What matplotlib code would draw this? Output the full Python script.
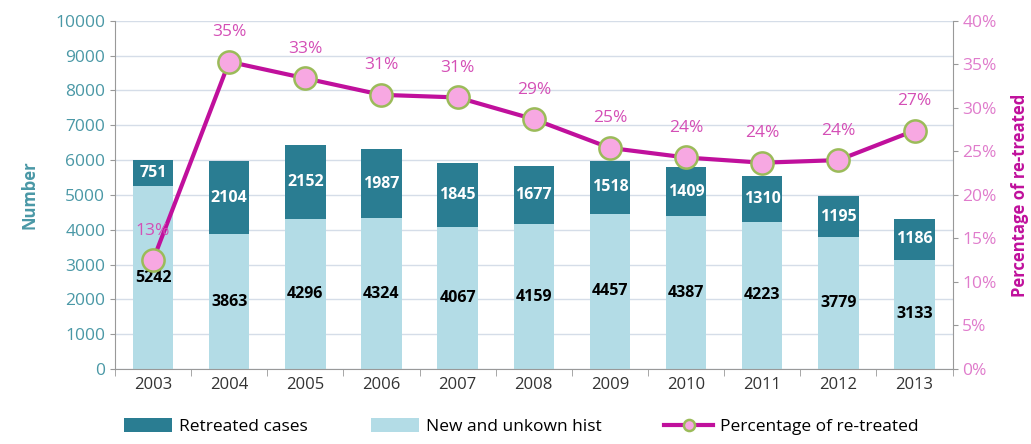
import matplotlib
matplotlib.use("Agg")
import matplotlib.pyplot as plt
from matplotlib.ticker import FuncFormatter
import numpy as np

years = ["2003", "2004", "2005", "2006", "2007", "2008", "2009", "2010", "2011", "2012", "2013"]
new_cases = [5242, 3863, 4296, 4324, 4067, 4159, 4457, 4387, 4223, 3779, 3133]
retreated = [751, 2104, 2152, 1987, 1845, 1677, 1518, 1409, 1310, 1195, 1186]
pct = [12.5, 35.3, 33.4, 31.5, 31.2, 28.7, 25.4, 24.3, 23.7, 24.0, 27.4]
pct_labels = ["13%", "35%", "33%", "31%", "31%", "29%", "25%", "24%", "24%", "24%", "27%"]

DARK = "#2a7d92"
LIGHT = "#b3dce6"
MAG = "#c0109c"
PINKTXT = "#d44fb6"
TEAL = "#4a98a6"

plt.rcParams['font.family'] = ['Open Sans', 'DejaVu Sans']

fig = plt.figure(figsize=(10.31, 4.44), dpi=100)
ax = fig.add_axes([0.1115, 0.169, 0.8125, 0.784])
x = np.arange(len(years))
w = 0.53
ax.bar(x, new_cases, w, color=LIGHT, label="New and unkown hist", zorder=2)
ax.bar(x, retreated, w, bottom=new_cases, color=DARK, label="Retreated cases", zorder=2)
for i in range(len(years)):
    ax.text(x[i], new_cases[i] / 2, str(new_cases[i]), ha='center', va='center',
            fontsize=11.5, fontweight='bold', color='black', zorder=3)
    ax.text(x[i], new_cases[i] + retreated[i] / 2, str(retreated[i]), ha='center', va='center',
            fontsize=11.5, fontweight='bold', color='white', zorder=3)

ax.set_xlim(-0.5, len(years) - 0.5)
ax.set_ylim(0, 10000)
ax.set_yticks(np.arange(0, 10001, 1000))
ax.set_xticks(x)
ax.set_xticklabels(years, fontsize=12, color='#333333')
ax.tick_params(axis='y', labelsize=12.5, labelcolor=TEAL, color='#999999')
ax.tick_params(axis='x', color='#999999', length=0, pad=6)
ax.set_xticks(np.arange(-0.5, len(years), 1), minor=True)
ax.tick_params(axis='x', which='minor', length=5, color='#999999')
ax.grid(axis='y', color='#d5dde8', linewidth=1, zorder=0)
ax.set_axisbelow(True)
for s in ['top', 'right']:
    ax.spines[s].set_visible(False)
for s in ['left', 'bottom']:
    ax.spines[s].set_color('#999999')
ax.set_ylabel("Number", fontsize=12, fontweight='bold', color=TEAL, labelpad=12)

ax2 = ax.twinx()
ax2.set_ylim(0, 40)
ax2.set_yticks(np.arange(0, 41, 5))
ax2.yaxis.set_major_formatter(FuncFormatter(lambda v, p: f"{int(v)}%"))
ax2.tick_params(axis='y', labelsize=12.5, labelcolor="#e07ccc", color='#999999')
for s in ['top', 'left', 'bottom']:
    ax2.spines[s].set_visible(False)
ax2.spines['right'].set_color('#999999')
line, = ax2.plot(x, pct, color=MAG, linewidth=3, marker='o', markersize=16,
                 markerfacecolor='#f7a8e2', markeredgecolor='#9bbb59', markeredgewidth=1.8,
                 label="Percentage of re-treated", zorder=5)
for i in range(len(years)):
    ax2.text(x[i], pct[i] + 3.4, pct_labels[i], ha='center', va='center',
             fontsize=12.5, color=PINKTXT, zorder=6)
ax2.set_ylabel("Percentage of re-treated", fontsize=12, fontweight='bold', color=MAG, labelpad=10)

h1, l1 = ax.get_legend_handles_labels()
handles = [h1[1], h1[0], line]
labels = [l1[1], l1[0], "Percentage of re-treated"]
fig.legend(handles, labels, loc='lower left', bbox_to_anchor=(0.105, -0.015), ncol=3,
           frameon=False, fontsize=12.5, handlelength=2.8, columnspacing=3.6,
           handleheight=0.8, handletextpad=0.4, markerscale=0.5)

fig.savefig("out.png", dpi=100)
